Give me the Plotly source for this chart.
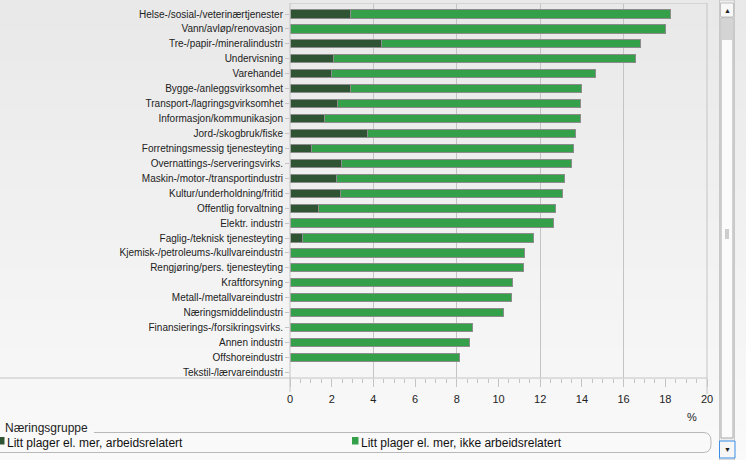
import plotly.graph_objects as go

# Næringsgrupper, top to bottom
naeringer = [
    'Helse-/sosial-/veterinærtjenester', 'Vann/avløp/renovasjon', 'Tre-/papir-/mineralindustri',
    'Undervisning', 'Varehandel', 'Bygge-/anleggsvirksomhet', 'Transport-/lagringsgvirksomhet',
    'Informasjon/kommunikasjon', 'Jord-/skogbruk/fiske', 'Forretningsmessig tjenesteyting',
    'Overnattings-/serveringsvirks.', 'Maskin-/motor-/transportindustri', 'Kultur/underholdning/fritid',
    'Offentlig forvaltning', 'Elektr. industri', 'Faglig-/teknisk tjenesteyting',
    'Kjemisk-/petroleums-/kullvareindustri', 'Rengjøring/pers. tjenesteyting', 'Kraftforsyning',
    'Metall-/metallvareindustri', 'Næringsmiddelindustri', 'Finansierings-/forsikringsvirks.',
    'Annen industri', 'Offshoreindustri', 'Tekstil-/lærvareindustri',
]
arbeidsrelatert = [2.88, None, 4.40, 2.10, 1.97, 2.91, 2.30, 1.66, 3.74, 1.01, 2.48, 2.25, 2.43,
                   1.38, None, 0.61, None, None, None, None, None, None, None, None, None]
ikke_arbeidsrelatert = [15.38, 17.99, 12.39, 14.47, 12.66, 11.06, 11.63, 12.27, 9.93, 12.58, 11.02,
                        10.91, 10.62, 11.33, 12.66, 11.09, 11.24, 11.19, 10.65, 10.62, 10.26, 8.73,
                        8.60, 8.11, None]
series_names = ['Litt plager el. mer, arbeidsrelatert', 'Litt plager el. mer, ikke arbeidsrelatert']
series_colors = ['#2e5434', '#35a04a']
x_ticks = [0, 2, 4, 6, 8, 10, 12, 14, 16, 18, 20]

W, H = 746, 460
L, R, T, B = 290, 707, 3, 378
FONT = 'Liberation Sans, Arial, sans-serif'
LINE = '#c4c4c4'


def px(x):
    return (x - L) / (R - L)


def py(y):
    return (B - y) / (B - T)


def label(text, x, y, size, color='#222', xanchor='left'):
    return dict(text=text, x=px(x), y=py(y), xref='paper', yref='paper', showarrow=False,
                xanchor=xanchor, yanchor='middle', font=dict(size=size, color=color))


fig = go.Figure()

for name, vals, col in zip(series_names, [arbeidsrelatert, ikke_arbeidsrelatert], series_colors):
    fig.add_trace(go.Bar(y=naeringer, x=vals, name=name, orientation='h',
                         marker=dict(color=col, line=dict(color='#8c8c8c', width=1)),
                         width=0.55, hoverinfo='skip', showlegend=False))

shapes = []
# soft vertical gradient background
n_bands = 46
for i in range(n_bands):
    c = int(233 + (250 - 233) * i / (n_bands - 1))
    shapes.append(dict(type='rect', xref='paper', yref='paper', layer='below',
                       x0=px(0), x1=px(W), y0=py(i * 10), y1=py(i * 10 + 10),
                       fillcolor='rgb(%d,%d,%d)' % (c, c, c), line=dict(width=0)))

# frame lines
shapes.append(dict(type='line', xref='paper', yref='paper', x0=px(0), x1=px(R), y0=py(B), y1=py(B),
                   line=dict(color=LINE, width=1)))
shapes.append(dict(type='line', xref='paper', yref='paper', x0=px(L), x1=px(R), y0=py(T + 0.5), y1=py(T + 0.5),
                   line=dict(color='#d4d4d4', width=1)))
shapes.append(dict(type='line', xref='paper', yref='paper', x0=px(L), x1=px(L), y0=py(T), y1=py(392),
                   line=dict(color=LINE, width=1)))
shapes.append(dict(type='line', xref='paper', yref='paper', x0=px(R), x1=px(R), y0=py(T), y1=py(394),
                   line=dict(color=LINE, width=1)))

# legend group box
yt, yb, xr, rr = 432.5, 452.5, 711, 8
path = 'M %f %f L %f %f Q %f %f %f %f L %f %f Q %f %f %f %f L %f %f' % (
    px(94), py(yt), px(xr - rr), py(yt), px(xr), py(yt), px(xr), py(yt + rr),
    px(xr), py(yb - rr), px(xr), py(yb), px(xr - rr), py(yb), px(-5), py(yb))
shapes.append(dict(type='path', xref='paper', yref='paper', path=path, line=dict(color='#b8b8b8', width=1)))

# legend swatches
for x0, col in zip([-2, 352], series_colors):
    shapes.append(dict(type='rect', xref='paper', yref='paper', x0=px(x0), x1=px(x0 + 6.5),
                       y0=py(444.5), y1=py(437), fillcolor=col, line=dict(width=0)))

# scrollbar
shapes.append(dict(type='rect', xref='paper', yref='paper', x0=px(719.5), x1=px(734.5), y0=py(0), y1=py(460),
                   fillcolor='#eeeeee', line=dict(color='#c8c8c8', width=1)))
shapes.append(dict(type='rect', xref='paper', yref='paper', x0=px(720.5), x1=px(733.5), y0=py(3), y1=py(17),
                   fillcolor='#f8f8f8', line=dict(color='#c0c0c0', width=1)))
shapes.append(dict(type='rect', xref='paper', yref='paper', x0=px(721), x1=px(733), y0=py(18), y1=py(438),
                   fillcolor='#fbfbfb', line=dict(color='#a8a8a8', width=1)))
shapes.append(dict(type='rect', xref='paper', yref='paper', x0=px(721.5), x1=px(732.5), y0=py(18.5), y1=py(40),
                   fillcolor='#d4d4d4', line=dict(width=0)))
for gy in [230, 232, 234, 236, 238]:
    shapes.append(dict(type='line', xref='paper', yref='paper', x0=px(725), x1=px(729), y0=py(gy), y1=py(gy),
                       line=dict(color='#a0a0a0', width=1)))
shapes.append(dict(type='rect', xref='paper', yref='paper', x0=px(719.5), x1=px(735), y0=py(441), y1=py(458),
                   fillcolor='#f6f6f6', line=dict(color='#3a8ee6', width=1)))

annotations = [
    label('%', 692, 416.5, 11, xanchor='center'),
    label('Næringsgruppe', 3, 428, 12),
    label(series_names[0], 4.5, 442.5, 12, color='#111'),
    label(series_names[1], 358.5, 442.5, 12, color='#111'),
    label('▲', 727, 10, 7, xanchor='center'),
    label('▼', 727, 449.5, 7, xanchor='center'),
]

fig.update_layout(
    barmode='stack',
    width=W, height=H,
    margin=dict(l=L, r=W - R, t=T, b=H - B, pad=0),
    paper_bgcolor='#f1f1f1', plot_bgcolor='rgba(0,0,0,0)',
    font=dict(family=FONT, size=10, color='#222'),
    bargap=0.45,
    shapes=shapes, annotations=annotations,
    xaxis=dict(range=[0, 20], tickvals=x_ticks, showgrid=False, zeroline=False, showline=False,
               ticks='outside', ticklen=8, tickcolor=LINE, tickfont=dict(size=11, color='#222'),
               ticklabelstandoff=3,
               minor=dict(dtick=0.5, ticks='outside', ticklen=4, tickcolor=LINE, showgrid=False)),
    xaxis2=dict(range=[0, 20], overlaying='x', dtick=4, showgrid=True, gridcolor=LINE, gridwidth=1,
                showticklabels=False, ticks='', zeroline=False, showline=False),
    yaxis=dict(range=[24.375, -0.737], showgrid=False, zeroline=False, showline=False,
               ticks='outside', ticklen=4, tickcolor=LINE, tickfont=dict(size=10, color='#222')),
)

# a hidden trace so the grid axis gets drawn
fig.add_trace(go.Scatter(x=[None], y=[None], xaxis='x2', showlegend=False, hoverinfo='skip'))

# page margin off so the figure sits at the window's top-left corner
fig.write_html('out.html', config={'displayModeBar': False},
               post_script="document.body.style.margin='0px';")
